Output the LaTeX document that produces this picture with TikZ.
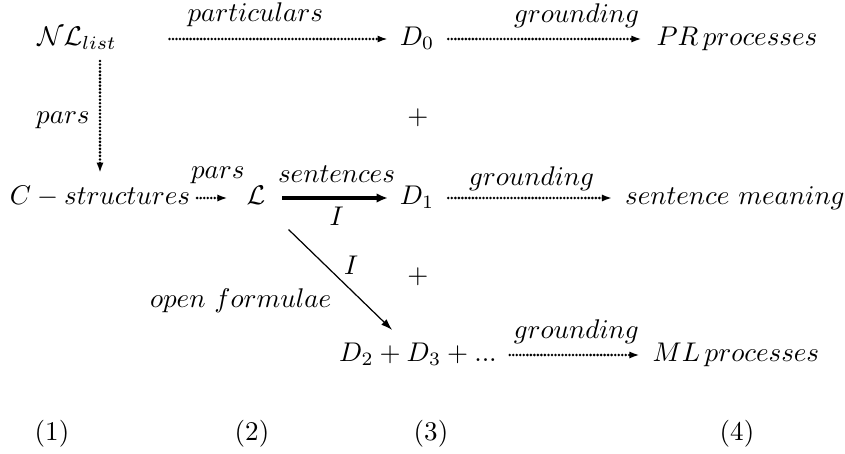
\documentclass[tikz,border=0pt]{standalone}
\usepackage{amsmath, amssymb}
\usetikzlibrary{arrows.meta}

\begin{document}
\begin{tikzpicture}[x=0.37pt, y=-0.37pt,
    obj/.style={inner sep=0pt, outer sep=0pt, text height=1.7ex, text depth=0.6ex},
    lab/.style={inner sep=0pt, anchor=base},
    dots/.style={line width=1.05pt, line cap=round, dash pattern=on 0pt off 1.3pt,
                 -{Latex[length=3.8pt, width=2.6pt]}},
    strong/.style={line width=1.2pt, -{Latex[length=4.2pt, width=3.6pt]}},
    thin/.style={line width=0.45pt, -{Latex[length=4.2pt, width=2.8pt]}}]

    \useasboundingbox (0,0) rectangle (845,454);

    % ==========================================
    % OBJECTS
    % ==========================================

    % Row 1
    \node[obj] (nl) at (77,39) {$\mathcal{N}\mathcal{L}_{list}$};
    \node[obj] (d0) at (417,39) {$D_0$};
    \node[obj] (pr) at (737,39) {$PR\,processes$};

    % Row 2
    \node[obj] (cs) at (100,198) {$C-structures$};
    \node[obj] (L) at (256,198) {$\mathcal{L}$};
    \node[obj] (d1) at (417,198) {$D_1$};
    \node[obj] (sm) at (735,198) {$sentence\ meaning$};

    % Row 3
    \node[obj] (d23) at (418,355) {$D_2+D_3+...$};
    \node[obj] (ml) at (736,355) {$ML\,processes$};

    % Plus signs between the rows
    \node[obj] (plus1) at (418,118) {$+$};
    \node[obj] (plus2) at (418,277) {$+$};

    % Column numbers
    \node[obj] (col1) at (52,434) {(1)};
    \node[obj] (col2) at (252,434) {(2)};
    \node[obj] (col3) at (431,434) {(3)};
    \node[obj] (col4) at (737,434) {(4)};

    % ==========================================
    % ARROWS
    % ==========================================

    \draw[dots, shorten <=19.6pt, shorten >=4.4pt] (nl) -- (d0)
        node[lab, pos=0.49, yshift=6.3pt] (lpart) {$particulars$};
    \draw[dots, shorten <=5.2pt, shorten >=5.5pt] (d0) -- (pr)
        node[lab, pos=0.64, yshift=6.1pt] (lgr1) {$grounding$};

    \draw[dots, shorten <=3.2pt, shorten >=4.3pt] (cs.north |- nl.south) -- (cs.north)
        node[pos=0.51, left=3.3pt, inner sep=0pt] (lpars1) {$pars$};

    \draw[dots, shorten <=2.6pt, shorten >=7pt] (cs) -- (L)
        node[lab, pos=0.49, yshift=7.4pt] (lpars2) {$pars$};
    \draw[strong, shorten <=6.3pt, shorten >=4.4pt] (L) -- (d1)
        node[lab, pos=0.53, yshift=5.6pt] (lsent) {$sentences$}
        node[lab, pos=0.53, yshift=-10pt] (lint1) {$I$};
    \draw[dots, shorten <=5.2pt, shorten >=4.8pt] (d1) -- (sm)
        node[lab, pos=0.51, yshift=4.8pt] (lgr2) {$grounding$};

    \draw[thin, shorten <=12pt, shorten >=6.2pt] (L) -- (d23)
        node[lab, pos=0.5, xshift=6.1pt] (lint2) {$I$}
        node[lab, pos=0.743, anchor=base east, xshift=-13.5pt] (lopen) {$open\ formulae$};

    \draw[dots, shorten <=4.8pt, shorten >=4.8pt] (d23) -- (ml)
        node[lab, pos=0.51, yshift=6pt] (lgr3) {$grounding$};

\end{tikzpicture}
\end{document}
